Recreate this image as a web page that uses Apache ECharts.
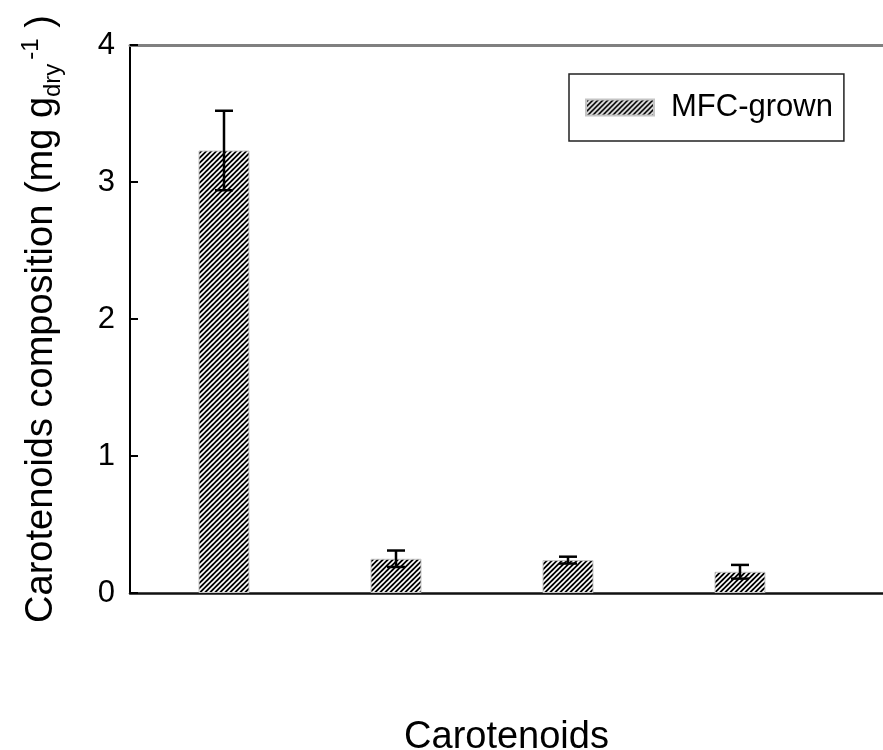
<!DOCTYPE html>
<html>
<head>
<meta charset="utf-8">
<script src="https://cdn.jsdelivr.net/npm/echarts@6/dist/echarts.min.js"></script>
<style>html,body{margin:0;padding:0;background:#fff;}#c{width:883px;height:750px;}</style>
</head>
<body>
<div id="c"></div>
<script>
// ---- data ----
var categories = ['Carotenoid 1', 'Carotenoid 2', 'Carotenoid 3', 'Carotenoid 4'];
var values = [3.23, 0.25, 0.24, 0.155];
var errors = [0.29, 0.06, 0.025, 0.05];
var seriesName = 'MFC-grown';
var yTicks = [0, 1, 2, 3, 4];

// hatch pattern: black with white "///" stripes
function hatch() {
  var n = 5;
  var c = document.createElement('canvas');
  c.width = n; c.height = n;
  var g = c.getContext('2d');
  g.fillStyle = '#000';
  g.fillRect(0, 0, n, n);
  g.strokeStyle = '#fff';
  g.lineWidth = 1.6;
  g.beginPath();
  g.moveTo(-1, n + 1); g.lineTo(n + 1, -1);
  g.moveTo(-1, 1); g.lineTo(1, -1);
  g.moveTo(n - 1, n + 1); g.lineTo(n + 1, n - 1);
  g.stroke();
  return c;
}
var pattern = { image: hatch(), repeat: 'repeat' };

var font = '"Liberation Sans", Arial, sans-serif';
var barData = categories.map(function (c, i) { return [i + 1, values[i]]; });
var errData = categories.map(function (c, i) { return [i + 1, values[i] - errors[i], values[i] + errors[i]]; });

var chart = echarts.init(document.getElementById('c'), null, { renderer: 'canvas' });
chart.setOption({
  animation: false,
  backgroundColor: '#fff',
  grid: { left: 130, top: 45, right: 0, bottom: 157, containLabel: false, outerBoundsMode: 'none' },
  legend: {
    data: [seriesName],
    left: 569, top: 74,
    padding: [18, 11, 18, 16],
    borderColor: '#222', borderWidth: 1.5,
    itemWidth: 68, itemHeight: 16,
    icon: 'rect',
    textStyle: { fontSize: 31, fontFamily: font, color: '#000', padding: [0, 0, 0, 12] }
  },
  xAxis: [{
    type: 'value',
    min: 0.4535, max: 4.8314,
    axisLine: { show: true, onZero: false, lineStyle: { color: '#111', width: 2.5 } },
    axisTick: { show: false }, axisLabel: { show: false }, splitLine: { show: false },
    name: 'Carotenoids', nameLocation: 'middle', nameGap: 126,
    nameTextStyle: { fontSize: 38, fontFamily: font, color: '#000' }
  }, {
    type: 'value', position: 'top',
    min: 0.4535, max: 4.8314,
    axisLine: { show: true, onZero: false, lineStyle: { color: '#808080', width: 3 } },
    axisTick: { show: false }, axisLabel: { show: false }, splitLine: { show: false }
  }],
  yAxis: {
    type: 'value', min: 0, max: 4, interval: 1,
    axisLine: { show: true, lineStyle: { color: '#000', width: 2 } },
    axisTick: { show: true, inside: true, length: 8, lineStyle: { color: '#000', width: 2 } },
    axisLabel: { fontSize: 31, fontFamily: font, color: '#000', margin: 15,
      formatter: function (v) { return yTicks.indexOf(v) >= 0 ? String(v) : ''; } },
    splitLine: { show: false },
    name: '{m|Carotenoids composition (mg g}{sub|dry}{sup|-1}{m| )}',
    nameLocation: 'middle', nameRotate: 90, nameGap: 65,
    nameTextStyle: {
      rich: {
        m: { fontSize: 38, fontFamily: font, color: '#000', lineHeight: 46, verticalAlign: 'middle' },
        sub: { fontSize: 24, fontFamily: font, color: '#000', lineHeight: 20, verticalAlign: 'bottom' },
        sup: { fontSize: 24, fontFamily: font, color: '#000', lineHeight: 12, verticalAlign: 'top', padding: [0, 0, 0, 4] }
      }
    }
  },
  series: [{
    name: seriesName,
    type: 'bar',
    data: barData,
    barWidth: 51,
    itemStyle: { color: pattern, borderColor: '#c4c4c4', borderWidth: 1 },
    z: 2
  }, {
    type: 'custom',
    data: errData,
    z: 3,
    renderItem: function (params, api) {
      var x = api.value(0);
      var lo = api.coord([x, api.value(1)]);
      var hi = api.coord([x, api.value(2)]);
      var w = 9;
      var style = { stroke: '#000', lineWidth: 2.5 };
      return {
        type: 'group',
        children: [
          { type: 'line', shape: { x1: hi[0], y1: hi[1], x2: lo[0], y2: lo[1] }, style: style },
          { type: 'line', shape: { x1: hi[0] - w, y1: hi[1], x2: hi[0] + w, y2: hi[1] }, style: style },
          { type: 'line', shape: { x1: lo[0] - w, y1: lo[1], x2: lo[0] + w, y2: lo[1] }, style: style }
        ]
      };
    }
  }]
});
</script>
</body>
</html>
